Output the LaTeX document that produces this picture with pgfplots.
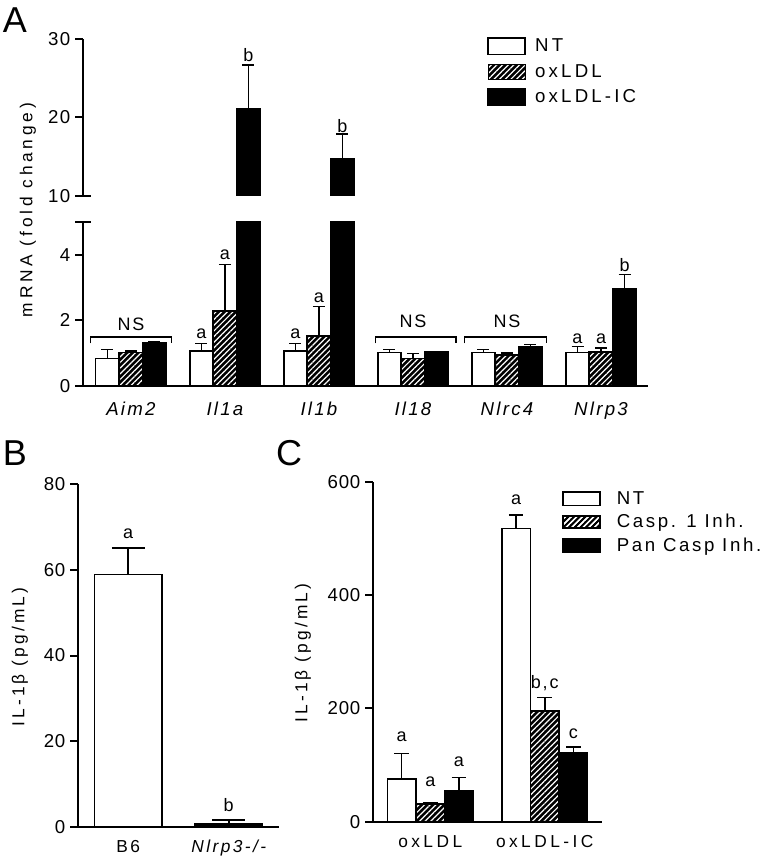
\documentclass[border=0pt]{standalone}
\usepackage{pgfplots}
\pgfplotsset{compat=1.18}
\usepackage{pgfplotstable}
\usepackage{fontspec}
\setmainfont{Liberation Sans}
\usetikzlibrary{patterns.meta}

\newcommand{\fs}[2]{\fontsize{#1}{#1}\selectfont\addfontfeature{LetterSpace=#2}}

\tikzset{
  ntbar/.style={fill=white, draw=black, line width=1.2pt},
  oxbar/.style={fill=black, draw=black, line width=1.2pt,
     postaction={pattern={Lines[angle=45,distance=3pt,line width=0.9pt]}, pattern color=white}},
  icbar/.style={fill=black, draw=black, line width=1.2pt},
}

\pgfplotsset{
  panel/.style={
    scale only axis, anchor=south west, clip=true,
    axis x line*=bottom, axis y line*=left,
    axis line style={line width=1.5pt},
    tick align=outside, major tick length=6pt,
    ytick style={line width=1.5pt, black},
    xtick style={draw=none},
    /pgf/number format/assume math mode=true,
    ybar,
  },
  eb/.style={error bars/y dir=plus, error bars/y explicit,
     error bars/error bar style={line width=1.2pt, black, solid},
     error bars/error mark=|,
     error bars/error mark options={line width=1.2pt, mark size=#1, black, solid}},
}

\pgfplotstableread{
x nt nte ox oxe ic ice
0 0.84 0.27 1.02 0.05 1.31 0.04
1 1.06 0.24 2.29 1.41 21.1 5.6
2 1.06 0.24 1.52 0.90 14.7 3.2
3 1.02 0.09 0.84 0.15 1.04 0.01
4 1.02 0.09 0.94 0.07 1.21 0.05
5 1.02 0.19 1.04 0.12 2.97 0.43
}\dataA

% the two oxLDL-IC values that reach the upper segment of the broken axis
\pgfplotstableread{
x ic ice
1 21.1 5.6
2 14.7 3.2
}\dataAup

\pgfplotstableread{
x y e
0 58.9 6.2
}\dataBwt
\pgfplotstableread{
x y e
1 0.85 0.75
}\dataBko

\pgfplotstableread{
x nt nte ox oxe ic ice
0 75.3 45.3 31.0 2.0 54.0 24.0
1 517.5 23.5 195.8 23.2 121.7 10.3
}\dataC

\begin{document}
\begin{tikzpicture}
\useasboundingbox (0,0) rectangle (578.25pt,642pt);

% ---------------- Panel A, lower part ----------------
\begin{axis}[panel,
  at={(62.25pt,352.5pt)}, width=423.75pt, height=123pt,
  xmin=-0.51, xmax=5.5, ymin=0, ymax=5,
  bar width=0.25,
  ytick={0,2,4},
  extra y ticks={5}, extra y tick labels={},
  extra y tick style={tick align=center, major tick length=12pt},
  yticklabel style={font=\fs{14pt}{8}},
  xtick={0,1,2,3,4,5},
  xticklabels={Aim2,Il1a,Il1b,Il18,Nlrc4,Nlrp3},
  xticklabel style={font=\itshape\fs{14pt}{12}, yshift=-2.75pt},
]
\addplot[ntbar, bar shift=-0.25, eb=4.5pt] table[x=x,y=nt,y error=nte]{\dataA};
\addplot[oxbar, bar shift=0, eb=4.5pt] table[x=x,y=ox,y error=oxe]{\dataA};
\addplot[icbar, bar shift=0.25, eb=4.5pt] table[x=x,y=ic,y error=ice]{\dataA};
% significance letters
\begin{scope}[every node/.style={font=\fs{13.5pt}{10}}]
\node at (axis cs:0,1.88) {NS};
\node at (axis cs:3,1.98) {NS};
\node at (axis cs:4,1.98) {NS};
\node at (axis cs:0.75,1.6) {a};
\node at (axis cs:1.0,4.0) {a};
\node at (axis cs:1.75,1.6) {a};
\node at (axis cs:2.0,2.68) {a};
\node at (axis cs:4.75,1.45) {a};
\node at (axis cs:5.0,1.45) {a};
\node at (axis cs:5.25,3.7) {b};
\end{scope}
\draw[line width=1.1pt] (axis cs:-0.43,1.3) -- (axis cs:-0.43,1.5) -- (axis cs:0.43,1.5) -- (axis cs:0.43,1.3);
\draw[line width=1.1pt] (axis cs:2.6,1.3) -- (axis cs:2.6,1.5) -- (axis cs:3.46,1.5) -- (axis cs:3.46,1.3);
\draw[line width=1.1pt] (axis cs:3.55,1.3) -- (axis cs:3.55,1.5) -- (axis cs:4.42,1.5) -- (axis cs:4.42,1.3);
\end{axis}

% ---------------- Panel A, upper part ----------------
\begin{axis}[panel,
  at={(62.25pt,495pt)}, width=423.75pt, height=117.75pt,
  axis x line=none,
  xmin=-0.51, xmax=5.5, ymin=10, ymax=30,
  bar width=0.25,
  ytick={20,30},
  extra y ticks={10},
  extra y tick style={tick align=center, major tick length=12pt},
  yticklabel style={font=\fs{14pt}{8}},
  xtick=\empty,
  legend cell align=left,
  legend style={at={(0.715,1.02)}, anchor=north west, draw=none, fill=none,
    inner sep=0pt, row sep=4pt, font=\fs{14pt}{17},
    /tikz/every odd column/.append style={column sep=5pt}},
]
\addlegendimage{legend image code/.code={\draw[ntbar] (0pt,-6.2pt) rectangle (27.75pt,6.2pt);}}
\addlegendentry{NT}
\addlegendimage{legend image code/.code={\fill[black] (0pt,-5.6pt) rectangle (27.75pt,5.6pt); \fill[pattern={Lines[angle=45,distance=3pt,line width=0.9pt]}, pattern color=white] (0pt,-5.6pt) rectangle (27.75pt,5.6pt);}}
\addlegendentry{oxLDL}
\addplot[icbar, bar shift=0.25, eb=4.5pt,
  legend image code/.code={\draw[icbar] (0pt,-6.2pt) rectangle (27.75pt,6.2pt);}]
  table[x=x,y=ic,y error=ice]{\dataAup};
\addlegendentry{oxLDL-IC}
\node[font=\fs{13.5pt}{10}] at (axis cs:1.25,27.96) {b};
\node[font=\fs{13.5pt}{10}] at (axis cs:2.25,18.9) {b};
\end{axis}

% ---------------- Panel B ----------------
\begin{axis}[panel,
  at={(58.5pt,21.75pt)}, width=150.75pt, height=257.25pt,
  xmin=-0.5, xmax=1.5, ymin=0, ymax=80,
  bar width=0.67,
  ytick={0,20,40,60,80},
  yticklabel style={font=\fs{14pt}{4}},
  xtick={0,1},
  xticklabels={B6,{\itshape Nlrp3-/-}},
  xticklabel style={font=\fs{13pt}{14}, yshift=-0.5pt},
]
\addplot[ntbar, bar shift=0, eb=12.3pt] table[x=x,y=y,y error=e]{\dataBwt};
\addplot[icbar, bar shift=0, eb=12.3pt] table[x=x,y=y,y error=e]{\dataBko};
\node[font=\fs{13.5pt}{10}] at (axis cs:0,68.3) {a};
\node[font=\fs{13.5pt}{10}] at (axis cs:1,5.2) {b};
\end{axis}

% ---------------- Panel C ----------------
\begin{axis}[panel,
  at={(279.75pt,25.7pt)}, width=171.75pt, height=255pt,
  xmin=-0.5, xmax=1.5, ymin=0, ymax=600,
  bar width=0.25,
  ytick={0,200,400,600},
  yticklabel style={font=\fs{14pt}{4}},
  xtick={0,1},
  xticklabels={oxLDL,oxLDL-IC},
  xticklabel style={font=\fs{13pt}{20}, yshift=-0.5pt},
  legend cell align=left,
  legend style={at={(0.825,0.98)}, anchor=north west, draw=none, fill=none,
    inner sep=0pt, row sep=2pt, font=\fs{14pt}{14},
    /tikz/every odd column/.append style={column sep=10pt}},
]
\addplot[ntbar, bar shift=-0.25, eb=5.5pt,
  legend image code/.code={\draw[ntbar] (0pt,-5pt) rectangle (27.75pt,5pt);}]
  table[x=x,y=nt,y error=nte]{\dataC};
\addlegendentry{NT}
\addplot[oxbar, bar shift=0, eb=5.5pt,
  legend image code/.code={\fill[black] (0pt,-4.6pt) rectangle (27.75pt,4.6pt); \fill[pattern={Lines[angle=45,distance=3pt,line width=0.9pt]}, pattern color=white] (0pt,-4.6pt) rectangle (27.75pt,4.6pt);}]
  table[x=x,y=ox,y error=oxe]{\dataC};
\addlegendentry{Casp. 1 Inh.}
\addplot[icbar, bar shift=0.25, eb=5.5pt,
  legend image code/.code={\draw[icbar] (0pt,-5pt) rectangle (27.75pt,5pt);}]
  table[x=x,y=ic,y error=ice]{\dataC};
\addlegendentry{Pan Casp Inh.}
\begin{scope}[every node/.style={font=\fs{13.5pt}{10}}]
\node at (axis cs:-0.25,150) {a};
\node at (axis cs:0,70.5) {a};
\node at (axis cs:0.25,106) {a};
\node at (axis cs:0.75,568.6) {a};
\node at (axis cs:1,245) {b,c};
\node at (axis cs:1.25,156) {c};
\end{scope}
\end{axis}

% ---------------- titles and axis labels ----------------
\node[font=\fs{27pt}{0}] at (11.25pt,627pt) {A};
\node[font=\fs{27pt}{0}] at (11.25pt,302.25pt) {B};
\node[font=\fs{27pt}{0}] at (216.75pt,302.25pt) {C};
\node[rotate=90, font=\fs{13pt}{22}] at (21pt,484.5pt) {mRNA (fold change)};
\node[rotate=90, font=\fs{13pt}{18}] at (15pt,149.25pt) {IL-1β (pg/mL)};
\node[rotate=90, font=\fs{13pt}{18}] at (227.25pt,152.25pt) {IL-1β (pg/mL)};
\end{tikzpicture}
\end{document}
